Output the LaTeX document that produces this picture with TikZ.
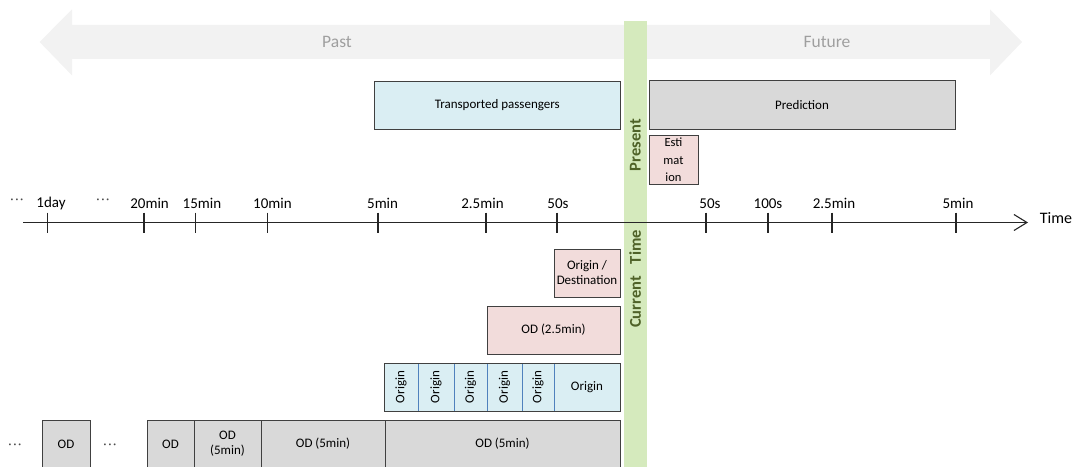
\documentclass[tikz,border=0pt]{standalone}
\usepackage{fontspec}
\setmainfont{Carlito}
\usetikzlibrary{arrows.meta}
\definecolor{arrowgray}{HTML}{F2F2F2}
\definecolor{pasttext}{HTML}{9F9F9F}
\definecolor{presgreen}{HTML}{D5EABD}
\definecolor{darkolive}{HTML}{4F6228}
\definecolor{boxline}{HTML}{404040}
\definecolor{lightblue}{HTML}{DAEEF3}
\definecolor{lightpink}{HTML}{F2DCDB}
\definecolor{lightgray}{HTML}{D9D9D9}
\definecolor{divblue}{HTML}{4F81BD}
\newcommand{\mydots}{·\hspace{1.6pt}·\hspace{1.6pt}·}
\begin{document}
\begin{tikzpicture}[x=1pt,y=-1pt,
  box/.style={draw=boxline, line width=1pt, inner sep=0pt, align=center,
    font=\fontsize{13}{15}\selectfont, text=black},
  bluebox/.style={box, fill=lightblue},
  pinkbox/.style={box, fill=lightpink},
  graybox/.style={box, fill=lightgray},
  cell/.style={draw=divblue, line width=0.8pt, fill=lightblue, inner sep=0pt,
    minimum height=48pt, font=\fontsize{13}{15}\selectfont},
  ticklabel/.style={font=\fontsize{15}{17}\selectfont, text=black, inner sep=0pt},
  tickmark/.style={line width=1.1pt, draw=black!85},
  dotsstyle/.style={font=\fontsize{13}{15}\selectfont, text=black!70, inner sep=0pt},
  bigtext/.style={font=\fontsize{17.5}{20}\selectfont, text=pasttext},
  vtext/.style={font=\bfseries\fontsize{16.5}{19}\selectfont, text=darkolive, rotate=90, inner sep=0pt}
]
\useasboundingbox (0,0) rectangle (1075,466);
\clip (0,0) rectangle (1075,466);

% big double arrow
\fill[arrowgray] (39.6,42) -- (72,9.3) -- (72,24.8) -- (990,24.8) -- (990,9.3)
  -- (1022,42) -- (990,75.4) -- (990,58.9) -- (72,58.9) -- (72,75.4) -- cycle;
\node[bigtext] (past) at (337,42) {Past};
\node[bigtext] (future) at (827,42) {Future};

% present bar
\fill[presgreen] (623.5,21) rectangle (647,470);

% top boxes
\node[bluebox, minimum width=246.5pt, minimum height=48.5pt] (trans) at (497.25,105.25) {Transported passengers};
\node[graybox, minimum width=306pt, minimum height=48.5pt] (pred) at (802,104.75) {Prediction};
\node[pinkbox, minimum width=49pt, minimum height=49.5pt, font=\fontsize{12.5}{17.5}\selectfont] (estim) at (673.5,159.75) {Esti\\mat\\ion};

% lower boxes
\node[pinkbox, minimum width=66pt, minimum height=48pt] (odest) at (587,273) {Origin /\\Destination};
\node[pinkbox, minimum width=133pt, minimum height=48pt] (od25) at (553.5,330) {OD (2.5min)};

% origin row
\node[cell, minimum width=34pt] (o1) at (401,387) {\rotatebox{90}{Origin}};
\node[cell, minimum width=36pt] (o2) at (436,387) {\rotatebox{90}{Origin}};
\node[cell, minimum width=33pt] (o3) at (470.5,387) {\rotatebox{90}{Origin}};
\node[cell, minimum width=35pt] (o4) at (504.5,387) {\rotatebox{90}{Origin}};
\node[cell, minimum width=32pt] (o5) at (538,387) {\rotatebox{90}{Origin}};
\node[cell, minimum width=66pt] (o6) at (587,387) {Origin};
\node[draw=boxline, line width=1pt, minimum width=236pt, minimum height=48pt, inner sep=0pt] (orow) at (502,387) {};

% bottom row
\node[graybox, minimum width=48pt, minimum height=48pt] (b1) at (66,444) {OD};
\node[graybox, minimum width=47pt, minimum height=48pt] (b2) at (170.5,444) {OD};
\node[graybox, minimum width=67pt, minimum height=48pt] (b3) at (227.5,444) {OD\\(5min)};
\node[graybox, minimum width=124pt, minimum height=48pt] (b4) at (323,444) {OD (5min)};
\node[graybox, minimum width=235pt, minimum height=48pt] (b5) at (502.5,444) {OD (5min)};
\node[dotsstyle] (bd1) at (15,446) {\mydots};
\node[dotsstyle] (bd2) at (110,446) {\mydots};

% axis
\coordinate (axstart) at (23,222.5);
\coordinate (axend) at (1028,222.5);
\draw[line width=1.1pt, draw=black!85, -{Straight Barb[length=13pt,width=16pt,line width=1.1pt]}] (axstart) -- (axend);
\node[font=\fontsize{16}{19}\selectfont, inner sep=0pt] (timelbl) at (1056,218) {Time};

\foreach \tx/\lx/\lab/\nm in {47.6/51/1day/t1, 144/149.6/20min/t2, 195.6/202/15min/t3,
  267.2/272.5/10min/t4, 378/382.6/5min/t5, 486/482.5/2.5min/t6, 557/558/50s/t7,
  706/710/50s/t8, 768/768/100s/t9, 832/834/2.5min/t10, 956/958/5min/t11}{
  \draw[tickmark] (\tx,212.5) -- (\tx,232.5);
  \node[ticklabel] (\nm) at (\lx,203.5) {\lab};
}
\node[dotsstyle] (td1) at (17,201) {\mydots};
\node[dotsstyle] (td2) at (103,201) {\mydots};

% vertical texts
\node[vtext] (present) at (635.2,145) {Present};
\node[vtext] (current) at (635.2,279) {Current\hspace{12pt}Time};
\end{tikzpicture}
\end{document}
